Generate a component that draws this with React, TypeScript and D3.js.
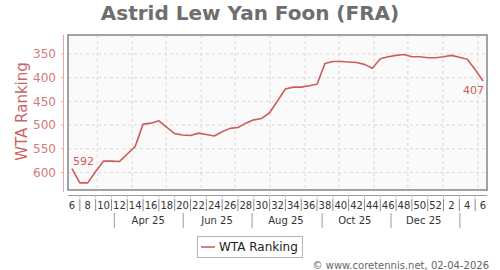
import React from "react";
import * as d3 from "d3";

const title = "Astrid Lew Yan Foon (FRA)";
const seriesName = "WTA Ranking";
const footer = "© www.coretennis.net, 02-04-2026";

// ISO week numbers of each ranking (week 6 of 2025 to week 6 of 2026)
const weekLabels = [
  6, 7, 8, 9, 10, 11, 12, 13, 14, 15, 16, 17, 18, 19, 20, 21, 22, 23, 24, 25,
  26, 27, 28, 29, 30, 31, 32, 33, 34, 35, 36, 37, 38, 39, 40, 41, 42, 43, 44,
  45, 46, 47, 48, 49, 50, 51, 52, 1, 2, 3, 4, 5, 6,
];
const ranks = [
  592, 622, 622, 598, 576, 576, 577, 561, 545, 498, 496, 491, 505, 518, 521,
  522, 517, 520, 523, 514, 507, 505, 496, 489, 486, 474, 449, 424, 420, 420,
  417, 414, 370, 366, 366, 367, 368, 372, 380, 360, 356, 353, 351, 356, 356,
  358, 358, 356, 353, 357, 361, 383, 407,
];
const firstWeekStart = new Date(2025, 1, 3);
const yTicks = [350, 400, 450, 500, 550, 600];
const monthLabels = ["Apr 25", "Jun 25", "Aug 25", "Oct 25", "Dec 25"];
const monthLabelDates = [
  new Date(2025, 3, 15),
  new Date(2025, 5, 15),
  new Date(2025, 7, 15),
  new Date(2025, 9, 15),
  new Date(2025, 11, 15),
];
const monthSeparatorDates = [
  new Date(2025, 2, 16),
  new Date(2025, 4, 16),
  new Date(2025, 6, 16),
  new Date(2025, 8, 16),
  new Date(2025, 10, 16),
  new Date(2026, 0, 16),
];

const W = 500;
const H = 270;
const L = 68, R = 487, T = 35, B = 190;
const FONT = "DejaVu Sans, Verdana, sans-serif";
const LINE = "#cd5c5c";

export default function App() {
  const weekStarts = weekLabels.map((_, i) => d3.timeDay.offset(firstWeekStart, 7 * i));
  const data = weekStarts.map((d, i) => ({
    date: d3.timeHour.offset(d, 84),
    rank: ranks[i],
    week: weekLabels[i],
  }));
  const x = d3
    .scaleTime()
    .domain([firstWeekStart, d3.timeDay.offset(weekStarts[weekStarts.length - 1], 7)])
    .range([L, R]);
  const y = d3.scaleLinear().domain([310, 637]).range([T, B]);

  const months = d3.timeMonth.range(new Date(2025, 2, 1), new Date(2026, 1, 2));
  const line = d3
    .line<{ date: Date; rank: number }>()
    .x((d) => x(d.date))
    .y((d) => y(d.rank));

  const first = data[0];
  const last = data[data.length - 1];

  return (
    <svg
      width={W}
      height={H}
      style={{ position: "absolute", left: 0, top: 0, background: "#fff" }}
      fontFamily={FONT}
    >
      <text x={250} y={20} textAnchor="middle" fontSize={20} fontWeight="bold" fill="#6e6e6e">
        {title}
      </text>

      <rect x={L} y={T} width={R - L} height={B - T} fill="#fafafa" />
      {yTicks.map((t) => (
        <line key={"gy" + t} x1={L} x2={R} y1={y(t)} y2={y(t)} stroke="#d8d8d8" strokeDasharray="3,3" />
      ))}
      {months.map((m) => (
        <line key={"gx" + m.getTime()} x1={x(m)} x2={x(m)} y1={T} y2={B} stroke="#d8d8d8" strokeDasharray="3,3" />
      ))}
      <rect x={L} y={T} width={R - L} height={B - T} fill="none" stroke="#858585" strokeWidth={1.5} />

      {/* y axis */}
      <line x1={63.5} x2={63.5} y1={T} y2={B + 2} stroke="#e0a8a8" />
      {yTicks.map((t) => (
        <g key={"yt" + t}>
          <line x1={61} x2={63.5} y1={y(t)} y2={y(t)} stroke="#e0a8a8" />
          <text x={56} y={y(t)} dy="0.35em" textAnchor="end" fontSize={12} fill="#d07a7a">
            {t}
          </text>
        </g>
      ))}
      <text
        transform={`translate(22,${(T + B) / 2 - 1}) rotate(-90)`}
        textAnchor="middle"
        dy="0.35em"
        fontSize={15}
        fill="#c86464"
      >
        {seriesName}
      </text>

      {/* x axis */}
      <line x1={L} x2={R} y1={195.5} y2={195.5} stroke="#9a9a9a" />
      {data.map((d, i) =>
        i % 2 === 1 ? (
          <g key={"xs" + i}>
            <line x1={x(d.date)} x2={x(d.date)} y1={195.5} y2={198} stroke="#c8c8c8" />
            <line x1={x(d.date)} x2={x(d.date)} y1={199} y2={211} stroke="#8a8a8a" />
          </g>
        ) : (
          <text key={"xl" + i} x={x(d.date)} y={205} dy="0.35em" textAnchor="middle" fontSize={10} fill="#333">
            {d.week}
          </text>
        )
      )}
      {monthSeparatorDates.map((d, i) => (
        <line key={"ms" + i} x1={x(d)} x2={x(d)} y1={213} y2={228} stroke="#9a9a9a" />
      ))}
      {monthLabels.map((m, i) => (
        <text key={"ml" + i} x={x(monthLabelDates[i])} y={220} dy="0.35em" textAnchor="middle" fontSize={10} fill="#333">
          {m}
        </text>
      ))}

      <path d={line(data) || ""} fill="none" stroke={LINE} strokeWidth={1.6} strokeLinejoin="round" />
      <text x={x(first.date) + 1} y={y(first.rank) - 8} dy="0.35em" fontSize={11} fill={LINE}>
        {first.rank}
      </text>
      <text x={x(last.date) + 1} y={y(last.rank) + 9} dy="0.35em" textAnchor="end" fontSize={11} fill={LINE}>
        {last.rank}
      </text>

      {/* legend */}
      <rect x={197.5} y={236.5} width={105} height={21} fill="#fff" stroke="#b4b4b4" />
      <line x1={201} x2={215} y1={247} y2={247} stroke={LINE} strokeWidth={1.6} />
      <text x={219} y={247} dy="0.35em" fontSize={12} fill="#222">
        {seriesName}
      </text>

      <text x={489} y={265} dy="0.35em" textAnchor="end" fontSize={10} fill="#666">
        {footer}
      </text>
    </svg>
  );
}
